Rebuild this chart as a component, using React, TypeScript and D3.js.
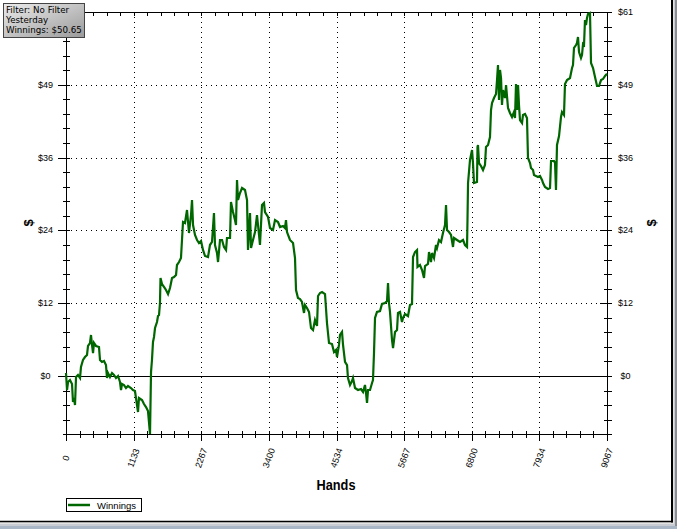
import React from "react";
import * as d3 from "d3";

const hands = [0,17,34,67,101,117,134,151,168,201,235,251,285,318,352,369,402,419,436,453,469,503,553,570,603,637,670,687,704,737,771,804,838,872,905,922,939,972,1006,1039,1089,1123,1156,1207,1223,1274,1307,1341,1374,1408,1425,1441,1458,1475,1492,1525,1542,1559,1575,1584,1609,1642,1676,1710,1743,1777,1810,1844,1860,1894,1927,1961,1994,2028,2061,2095,2112,2129,2162,2196,2229,2263,2296,2330,2380,2413,2447,2480,2497,2531,2548,2581,2615,2648,2682,2698,2749,2765,2799,2832,2849,2866,2883,2916,2950,3000,3034,3050,3084,3101,3134,3168,3201,3235,3251,3285,3318,3335,3386,3419,3469,3503,3553,3587,3637,3670,3687,3704,3754,3805,3838,3855,3888,3922,3955,3989,4006,4039,4073,4106,4140,4173,4207,4224,4257,4291,4341,4374,4408,4458,4492,4525,4542,4575,4592,4626,4643,4676,4710,4726,4760,4793,4810,4844,4894,4944,4978,5011,5028,5045,5062,5095,5129,5145,5162,5179,5212,5263,5296,5346,5380,5397,5413,5430,5464,5481,5514,5548,5564,5598,5631,5648,5682,5732,5765,5799,5816,5849,5883,5891,5933,5967,6000,6017,6067,6084,6117,6134,6168,6201,6218,6251,6285,6318,6352,6369,6386,6419,6453,6486,6503,6553,6603,6654,6687,6721,6729,6738,6771,6805,6821,6838,6888,6897,6905,6922,6955,6989,7022,7039,7073,7106,7123,7140,7173,7207,7224,7240,7257,7274,7291,7307,7324,7358,7375,7408,7441,7475,7508,7525,7542,7559,7576,7592,7609,7643,7659,7693,7726,7743,7777,7793,7827,7844,7877,7911,7944,7978,7995,8028,8078,8112,8129,8179,8196,8212,8229,8263,8296,8313,8346,8363,8397,8447,8481,8497,8514,8548,8564,8581,8598,8631,8648,8665,8682,8698,8715,8732,8749,8782,8799,8833,8866,8900,8933,8967,9000,9034,9067];

const winnings = [0.5,-2.35,-1.01,-0.67,-1.34,-4.36,-3.69,-4.86,-0.17,0.17,-0.34,1.51,2.68,3.18,3.52,5.03,5.53,6.87,5.2,3.85,5.53,5.03,4.86,2.68,2.35,2.51,1.84,-0.34,0.5,-0.17,0.5,0.17,-0.34,0,-1.01,-2.35,-1.34,-1.51,-2.01,-1.68,-2.01,-2.35,-2.51,-6.03,-3.69,-4.02,-4.69,-5.2,-5.87,-9.72,0.67,2.68,5.7,6.54,8.04,9.05,10.05,10.22,12.23,16.42,15.42,14.92,14.41,13.74,14.75,16.42,16.59,16.93,18.6,19.1,19.77,25.81,25.64,27.82,23.96,26.98,29.49,25.3,23.63,22.79,22.29,22.62,21.12,20.11,19.94,21.95,22.46,27.32,21.95,20.61,19.1,22.79,22.79,21.62,21.12,23.13,23.13,29.16,27.48,26.14,25.3,32.85,29.49,30.67,31.51,31.17,29.49,21.12,27.32,21.45,22.79,24.13,26.98,23.63,21.95,28.66,28.99,27.48,26.65,24.8,24.47,26.14,25.81,24.97,25.14,24.8,26.14,24.13,22.79,22.29,19.77,14.41,13.07,12.9,12.4,10.56,11.9,11.4,10.73,8.04,7.71,9.38,8.38,13.41,13.91,14.08,13.74,8.88,5.53,5.36,4.02,4.36,3.18,5.2,6.87,7.37,5.2,2.35,1.84,-0.34,-1.51,-0.84,-0.34,-2.01,-2.35,-2.18,-2.68,-1.51,-2.85,-4.52,-2.35,-2.35,-1.17,-0.67,3.85,9.72,10.73,10.89,12.07,12.23,12.57,15.59,12.23,10.73,6.03,4.69,7.37,7.71,10.56,10.73,9.05,9.72,10.39,10.05,11.9,12.07,19.94,20.78,21.12,18.27,18.6,17.76,16.42,18.43,18.77,20.78,19.1,20.61,19.77,21.95,21.45,22.79,22.46,23.96,25.3,28.66,24.47,24.13,23.63,21.62,23.13,22.79,22.46,22.79,21.95,21.62,26.14,32.34,36.2,37.87,35.69,32.34,32.51,38.38,38.71,35.69,35.19,34.52,35.36,38.38,38.71,40.05,44.58,45.75,46.59,47.26,49.6,52.12,46.25,51.28,49.94,45.41,47.93,46.59,48.77,44.91,44.07,43.4,44.24,43.24,48.93,44.58,48.77,45.41,42.9,42.4,43.74,43.91,43.24,36.53,35.69,34.86,34.52,33.68,33.52,33.35,33.52,32.85,32.34,31.67,31.34,31.51,36.03,36.03,35.69,31.17,38.71,40.22,43.4,44.24,43.74,48.93,49.6,49.94,51.62,52.12,54.97,55.47,55.8,56.81,54.3,53.29,53.79,55.64,55.47,59.66,58.82,60.0,60.66,60.83,52.45,51.62,50.11,48.6,48.6,49.6,49.77,50.28,50.65];

const xTickValues = [0, 1133, 2267, 3400, 4534, 5667, 6800, 7934, 9067];
const xTickLabels = ["0", "1133", "2267", "3400", "4534", "5667", "6800", "7934", "9067"];
const yTickValues = [0, 12.2, 24.4, 36.6, 48.8, 61];
const yTickLabels = ["$0", "$12", "$24", "$36", "$49", "$61"];
const infoLines = ["Filter: No Filter", "Yesterday", "Winnings: $50.65"];
const seriesName = "Winnings";
const xTitle = "Hands";
const yTitle = "$";

const X_MAX = 9067;
const Y_MIN = -9.76;
const Y_MAX = 61;

export default function App() {
  const W = 677, H = 529;
  const left = 66, right = 607;
  const x = d3.scaleLinear().domain([0, X_MAX]).range([left, right]);
  const y = d3.scaleLinear().domain([Y_MIN, Y_MAX]).range([434.24, 12]);
  const yBottom = y(Y_MIN);
  const yTop = y(Y_MAX);
  const xMinor = d3.range(0, 41).map((i) => (i * X_MAX) / 40);
  const yMinor = d3.range(-4, 26).map((i) => i * 2.44);
  const line = d3
    .line<number>()
    .x((_, i) => x(hands[i]))
    .y((d) => y(d));
  const pathD = line(winnings) || "";
  const font = "'Liberation Sans', Arial, sans-serif";
  const r = (v: number) => Math.round(v) + 0.5;

  return (
    <svg
      width={W}
      height={H}
      style={{ position: "absolute", left: 0, top: 0, display: "block" }}
      xmlns="http://www.w3.org/2000/svg"
    >
      <defs>
        <linearGradient id="infoGrad" x1="0" y1="0" x2="1" y2="1">
          <stop offset="0" stopColor="#ececec" />
          <stop offset="1" stopColor="#9a9a9a" />
        </linearGradient>
      </defs>
      {/* outer frame */}
      <rect x={0} y={0} width={W} height={H} fill="#c9cdd3" />
      <rect x={0} y={0} width={674} height={524} fill="#e2e2e2" />
      <rect x={0} y={0} width={671} height={521} fill="#ffffff" />
      <line x1={672} y1={0} x2={672} y2={522.5} stroke="#000" strokeWidth={2} />
      <line x1={0} y1={521.5} x2={673} y2={521.5} stroke="#000" strokeWidth={1.5} />
      <line x1={676} y1={0} x2={676} y2={529} stroke="#8a8e94" strokeWidth={2} />
      <line x1={0} y1={527.5} x2={677} y2={527.5} stroke="#a9b6c6" strokeWidth={3} />

      {/* grid */}
      {yTickValues.filter((v) => v !== 0 && v !== Y_MAX).map((v, i) => (
        <line key={"gy" + i} x1={left} x2={right} y1={r(y(v))} y2={r(y(v))} stroke="#000" strokeWidth={1} strokeDasharray="1,4" />
      ))}
      {xTickValues.filter((v) => v !== 0 && v !== X_MAX).map((v, i) => (
        <line key={"gx" + i} x1={r(x(v))} x2={r(x(v))} y1={yTop} y2={yBottom} stroke="#000" strokeWidth={1} strokeDasharray="1,4" />
      ))}
      <line x1={left} x2={right} y1={r(y(0))} y2={r(y(0))} stroke="#000" strokeWidth={1} />

      {/* axes lines */}
      <g stroke="#000" strokeWidth={1} shapeRendering="crispEdges">
        <line x1={r(left)} x2={r(left)} y1={yTop} y2={yBottom + 1} />
        <line x1={r(right)} x2={r(right)} y1={yTop} y2={yBottom + 1} />
        <line x1={left} x2={right + 1} y1={r(yBottom)} y2={r(yBottom)} />
        <line x1={left} x2={right + 1} y1={r(yTop)} y2={r(yTop)} />
        {yMinor.map((v, i) => (
          <g key={"ym" + i}>
            <line x1={left - 3} x2={left + 4} y1={r(y(v))} y2={r(y(v))} />
            <line x1={right - 3} x2={right + 5} y1={r(y(v))} y2={r(y(v))} />
          </g>
        ))}
        {yTickValues.map((v, i) => (
          <g key={"yM" + i}>
            <line x1={left - 8} x2={left + 4} y1={r(y(v))} y2={r(y(v))} />
            <line x1={right - 7} x2={right + 5} y1={r(y(v))} y2={r(y(v))} />
          </g>
        ))}
        {xMinor.map((v, i) => (
          <g key={"xm" + i}>
            <line x1={r(x(v))} x2={r(x(v))} y1={yBottom - 3} y2={yBottom + 4} />
            <line x1={r(x(v))} x2={r(x(v))} y1={yTop} y2={yTop + 4} />
          </g>
        ))}
        {xTickValues.map((v, i) => (
          <line key={"xM" + i} x1={r(x(v))} x2={r(x(v))} y1={yBottom - 3} y2={yBottom + 7} />
        ))}
      </g>

      {/* series */}
      <path d={pathD} fill="none" stroke="#006600" strokeWidth={2.2} strokeLinejoin="miter" />

      {/* tick labels */}
      <g fontFamily={font} fontSize={9} fill="#000">
        {yTickValues.map((v, i) => (
          <g key={"yl" + i}>
            {v !== Y_MAX && (
              <text x={45.5} y={y(v)} textAnchor="middle" dominantBaseline="central">{yTickLabels[i]}</text>
            )}
            <text x={625.5} y={y(v)} textAnchor="middle" dominantBaseline="central">{yTickLabels[i]}</text>
          </g>
        ))}
        {xTickValues.map((v, i) => (
          <text
            key={"xl" + i}
            transform={`translate(${x(v)},458) rotate(-70)`}
            textAnchor="middle"
            dominantBaseline="central"
          >
            {xTickLabels[i]}
          </text>
        ))}
      </g>

      {/* axis titles */}
      <text x={336} y={490} textAnchor="middle" fontFamily={font} fontWeight="bold" fontSize={15} textLength={39} lengthAdjust="spacingAndGlyphs">{xTitle}</text>
      <text transform="translate(28,223) rotate(-90)" textAnchor="middle" dominantBaseline="central" fontFamily={font} fontWeight="bold" fontSize={13}>{yTitle}</text>
      <text transform="translate(651,223) rotate(-90)" textAnchor="middle" dominantBaseline="central" fontFamily={font} fontWeight="bold" fontSize={13}>{yTitle}</text>

      {/* info box */}
      <rect x={3.5} y={3.5} width={81} height={34} fill="url(#infoGrad)" stroke="#444" strokeWidth={1} />
      <g fontFamily="'DejaVu Sans', Verdana, sans-serif" fontSize={8.7} fill="#000">
        {infoLines.map((t, i) => (
          <text key={"il" + i} x={6} y={13.3 + i * 10}>{t}</text>
        ))}
      </g>

      {/* legend */}
      <rect x={66.5} y={498.5} width={75} height={13} fill="#fff" stroke="#000" strokeWidth={1} />
      <line x1={68} x2={90} y1={505} y2={505} stroke="#006600" strokeWidth={2.5} />
      <text x={97} y={508.5} fontFamily={font} fontSize={9.5} fill="#000">{seriesName}</text>
    </svg>
  );
}
